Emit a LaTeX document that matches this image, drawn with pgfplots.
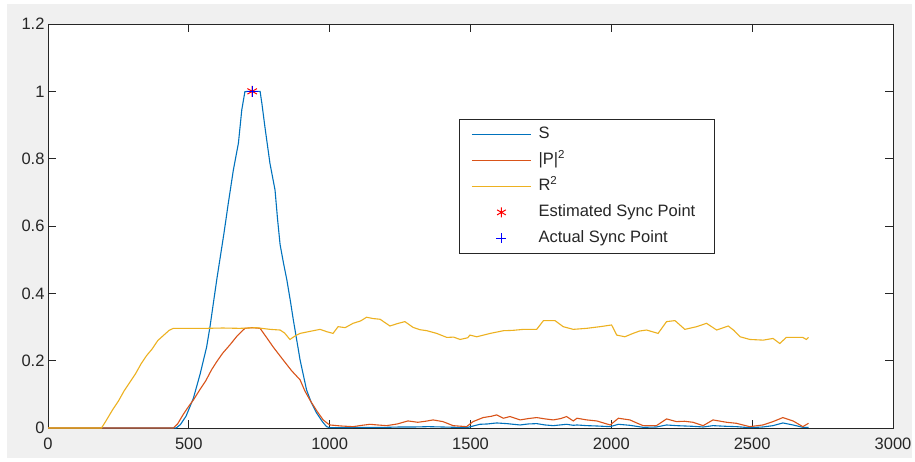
\documentclass[border=0pt]{standalone}
\usepackage{pgfplots}
\pgfplotsset{compat=1.18}
\usepackage{fontspec}
\setmainfont{Liberation Sans}
\definecolor{mblue}{rgb}{0,0.447,0.741}
\definecolor{mred}{rgb}{0.85,0.325,0.098}
\definecolor{myel}{rgb}{0.929,0.694,0.125}
\definecolor{mgray}{RGB}{240,240,240}
\definecolor{maxis}{RGB}{38,38,38}
\begin{document}
\begin{tikzpicture}
\fill[white] (-48pt,-33pt) rectangle (867pt,428pt);
\fill[mgray] (-41pt,-30pt) rectangle (864pt,424pt);
\begin{axis}[
  at={(0,0)}, anchor=south west,
  scale only axis, width=845pt, height=404pt,
  xmin=0, xmax=3000, ymin=0, ymax=1.2,
  xtick={0,500,...,3000}, ytick={0,0.2,...,1.2},
  scaled ticks=false,
  /pgf/number format/1000 sep={},
  /pgf/number format/assume math mode=true,
  tick label style={font=\fontsize{16.5}{19}\selectfont, text=maxis},
  xticklabel style={yshift=-6pt},
  tick align=inside, major tick length=8pt,
  axis line style={maxis, line width=0.9pt},
  tick style={maxis, line width=0.8pt},
  axis background/.style={fill=white},
  legend style={at={(rel axis cs:0.4864,0.7649)}, anchor=north west,
    draw=maxis, line width=0.8pt, fill=white,
    font=\fontsize{16.5}{19}\selectfont, text=maxis,
    inner xsep=12pt, inner ysep=2pt,
    nodes={text height=12pt, text depth=3.5pt, minimum height=26pt, inner sep=0pt, anchor=west},
    column sep=7pt},
  legend cell align=left,
]
\addplot[mblue, line width=1.1pt, legend image code/.code={\draw[mblue,line width=1.1pt] (0pt,0pt) -- (59pt,0pt);}] coordinates {
(0,0) (455,0) (470,0.01) (490,0.035) (516,0.088) (540,0.16) (563,0.24) (575,0.30) (587,0.37) (599,0.44) (612,0.51) (625,0.58) (640,0.667) (658,0.766) (676,0.846) (688,0.945) (699,0.999) (710,1.0) (753,1.0) (760,0.96) (770,0.895) (788,0.786) (806,0.707) (815,0.62) (824,0.545) (836,0.49) (848,0.44) (860,0.38) (871,0.321) (895,0.202) (918,0.113) (935,0.075) (954,0.044) (975,0.018) (989,0.004) (1000,0.001)
(1050,0.001) (1100,0.002) (1150,0.002) (1200,0.002) (1250,0.003) (1300,0.003) (1350,0.004) (1400,0.003) (1450,0.002) (1486,0.001) (1510,0.006) (1533,0.011) (1560,0.012) (1593,0.015) (1629,0.013) (1676,0.009) (1705,0.012) (1735,0.013) (1765,0.009) (1794,0.007) (1841,0.011) (1865,0.008) (1878,0.009) (1913,0.007) (1948,0.006) (1996,0.004) (2025,0.011) (2066,0.008) (2113,0.002) (2160,0.003) (2196,0.009) (2231,0.007) (2290,0.005) (2326,0.003) (2361,0.007) (2409,0.005) (2444,0.004) (2491,0.001) (2538,0.003) (2574,0.007) (2609,0.015) (2645,0.009) (2680,0.002) (2700,0.002)
};
\addlegendentry{S}
\addplot[mred, line width=1.1pt, legend image code/.code={\draw[mred,line width=1.1pt] (0pt,0pt) -- (59pt,0pt);}] coordinates {
(0,0) (445,0) (460,0.012) (480,0.04) (500,0.065) (516,0.083) (540,0.115) (560,0.14) (580,0.172) (599,0.197) (620,0.222) (646,0.247) (670,0.272) (699,0.296) (725,0.298) (753,0.296) (775,0.27) (800,0.24) (835,0.202) (865,0.17) (895,0.143) (912,0.11) (930,0.083) (955,0.05) (977,0.024) (995,0.012) (1001,0.009)
(1040,0.006) (1083,0.004) (1115,0.008) (1143,0.011) (1170,0.009) (1202,0.007) (1240,0.012) (1278,0.021) (1313,0.017) (1340,0.02) (1367,0.024) (1402,0.019) (1438,0.007) (1486,0.004) (1509,0.019) (1545,0.031) (1575,0.035) (1593,0.039) (1617,0.029) (1640,0.034) (1676,0.024) (1705,0.028) (1735,0.031) (1765,0.027) (1794,0.024) (1820,0.028) (1841,0.034) (1865,0.021) (1878,0.029) (1913,0.024) (1948,0.021) (1996,0.009) (2025,0.029) (2066,0.024) (2090,0.015) (2113,0.007) (2160,0.007) (2196,0.027) (2231,0.019) (2260,0.02) (2290,0.017) (2326,0.007) (2361,0.024) (2409,0.017) (2444,0.014) (2491,0.004) (2538,0.009) (2574,0.019) (2609,0.031) (2645,0.021) (2680,0.004) (2700,0.014)
};
\addlegendentry{|P|\textsuperscript{2}}
\addplot[myel, line width=1.1pt, legend image code/.code={\draw[myel,line width=1.1pt] (0pt,0pt) -- (59pt,0pt);}] coordinates {
(0,0) (190,0) (205,0.02) (230,0.055) (250,0.08) (270,0.11) (290,0.135) (310,0.16) (330,0.19) (350,0.215) (370,0.235) (390,0.26) (410,0.275) (430,0.29) (445,0.296)
(500,0.296) (560,0.296) (620,0.297) (680,0.296) (740,0.298) (788,0.293) (824,0.291) (840,0.282) (859,0.263) (880,0.275) (895,0.281) (930,0.287) (966,0.293) (990,0.286) (1012,0.281) (1030,0.301) (1055,0.298) (1083,0.311) (1110,0.318) (1131,0.329) (1155,0.325) (1179,0.323) (1214,0.303) (1240,0.31) (1267,0.316) (1296,0.299) (1320,0.292) (1345,0.289) (1380,0.281) (1416,0.269) (1440,0.27) (1463,0.263) (1490,0.268) (1498,0.276) (1522,0.271) (1570,0.281) (1617,0.289) (1650,0.29) (1688,0.293) (1735,0.293) (1759,0.319) (1800,0.319) (1829,0.301) (1865,0.293) (1912,0.296) (1960,0.301) (2001,0.306) (2019,0.276) (2048,0.271) (2077,0.281) (2100,0.288) (2125,0.291) (2166,0.281) (2196,0.316) (2226,0.319) (2261,0.293) (2303,0.301) (2338,0.311) (2374,0.291) (2415,0.303) (2435,0.29) (2457,0.271) (2492,0.263) (2539,0.261) (2574,0.266) (2598,0.251) (2621,0.269) (2680,0.269) (2692,0.263) (2700,0.269)
};
\addlegendentry{R\textsuperscript{2}}
\addplot[only marks, mark=asterisk, mark size=5.5pt, red, line width=1pt, legend image code/.code={\draw[red,line width=1pt,mark size=5pt] plot[mark=asterisk] coordinates {(29.5pt,0pt)};}] coordinates {(725,1.0)};
\addlegendentry{Estimated Sync Point\hspace*{7pt}}
\addplot[only marks, mark=+, mark size=5.5pt, blue, line width=1pt, legend image code/.code={\draw[blue,line width=1pt,mark size=5pt] plot[mark=+] coordinates {(29.5pt,0pt)};}] coordinates {(725,1.0)};
\addlegendentry{Actual Sync Point}
\end{axis}
\end{tikzpicture}
\end{document}
